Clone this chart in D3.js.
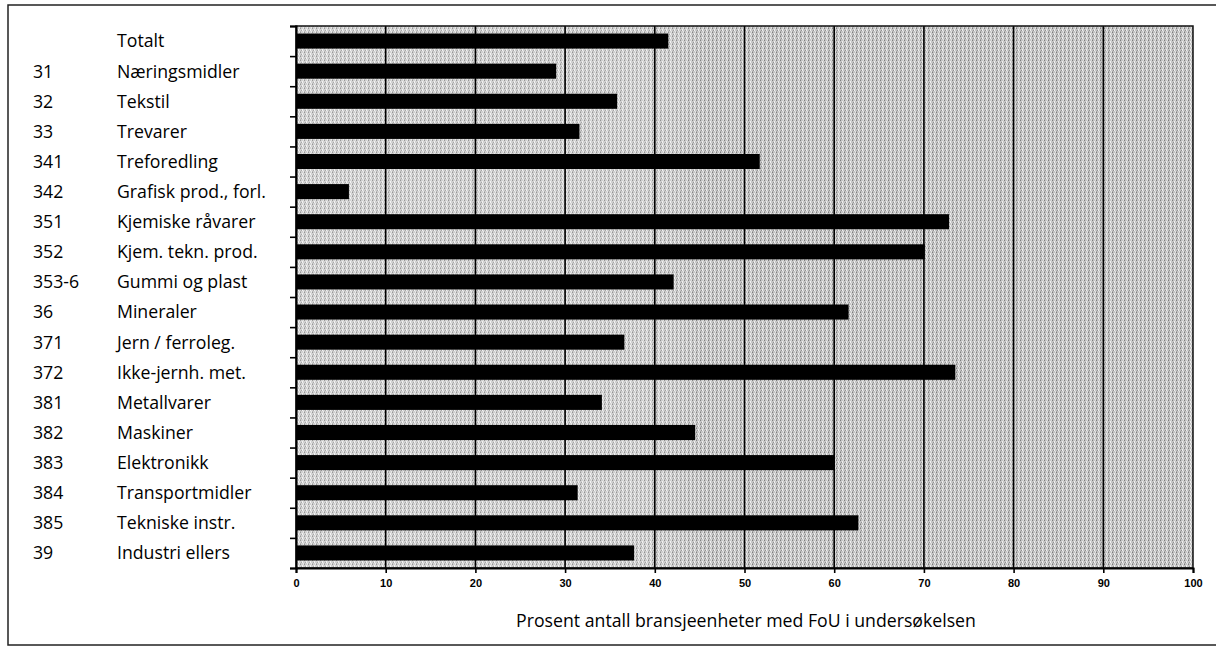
<!DOCTYPE html>
<html>
<meta charset="utf-8">
<script src="https://d3js.org/d3.v7.min.js"></script>
<style>
  body { margin: 0; background: #fff; }
  .lab { font-family: "Open Sans", sans-serif; font-size: 17.7px; fill: #000; }
  .xaxis text { font-family: "Liberation Sans", Arial, sans-serif; font-weight: bold; font-size: 11px; fill: #000; }
</style>
<body>
<div id="vis"></div>
<script>

  // data
  var codes = ["", "31", "32", "33", "341", "342", "351", "352", "353-6", "36",
               "371", "372", "381", "382", "383", "384", "385", "39"];
  var names = ["Totalt", "Næringsmidler", "Tekstil", "Trevarer", "Treforedling",
               "Grafisk prod., forl.", "Kjemiske råvarer", "Kjem. tekn. prod.",
               "Gummi og plast", "Mineraler", "Jern / ferroleg.", "Ikke-jernh. met.",
               "Metallvarer", "Maskiner", "Elektronikk", "Transportmidler",
               "Tekniske instr.", "Industri ellers"];
  var values = [41.5, 29.0, 35.8, 31.6, 51.7, 5.9, 72.8, 70.1, 42.1, 61.6,
                36.6, 73.5, 34.1, 44.5, 60.0, 31.4, 62.7, 37.7];
  var xTicks = [0, 10, 20, 30, 40, 50, 60, 70, 80, 90, 100];
  var xTitle = "Prosent antall bransjeenheter med FoU i undersøkelsen";

  var total_width = 1216, total_height = 648;
  var pLeft = 296, pRight = 1193, pTop = 26, pBottom = 568;

  var svg = d3.select("#vis").append("svg")
      .attr("width", total_width)
      .attr("height", total_height);

  // stipple pattern for the plot background
  var defs = svg.append("defs");
  var pat = defs.append("pattern")
      .attr("id", "stip")
      .attr("width", 4).attr("height", 4)
      .attr("patternUnits", "userSpaceOnUse");
  pat.append("rect").attr("width", 4).attr("height", 4).attr("fill", "#c4c4c4");
  [[0,0,"#7c7c7c"],[2,1,"#eeeeee"],[1,2,"#909090"],[3,3,"#e4e4e4"],[3,0,"#dadada"],[0,3,"#a0a0a0"],[2,2,"#f0f0f0"]]
    .forEach(function(p) {
      pat.append("rect").attr("x", p[0]).attr("y", p[1]).attr("width", 1).attr("height", 1).attr("fill", p[2]);
    });
  var grad = defs.append("linearGradient").attr("id", "fade")
      .attr("x1", "0").attr("x2", "1").attr("y1", "0").attr("y2", "0");
  grad.append("stop").attr("offset", "0").attr("stop-color", "#fff").attr("stop-opacity", 0.22);
  grad.append("stop").attr("offset", "0.4").attr("stop-color", "#fff").attr("stop-opacity", 0.18);
  grad.append("stop").attr("offset", "0.46").attr("stop-color", "#fff").attr("stop-opacity", 0.02);
  grad.append("stop").attr("offset", "1").attr("stop-color", "#fff").attr("stop-opacity", 0);

  // outer frame
  svg.append("rect")
    .attr("x", 8).attr("y", 5)
    .attr("width", 1230).attr("height", 640)
    .attr("fill", "none").attr("stroke", "#222").attr("stroke-width", 1.5);

  var x = d3.scaleLinear().domain([0, 100]).range([pLeft, pRight]);
  var y = d3.scaleBand().domain(d3.range(names.length))
      .range([pTop, pBottom]).paddingInner(0.5).paddingOuter(0.25);
  var ySlots = d3.scaleLinear().domain([0, names.length]).range([pTop, pBottom]);

  // plot background
  svg.append("rect")
    .attr("x", pLeft).attr("y", pTop)
    .attr("width", pRight - pLeft).attr("height", pBottom - pTop)
    .attr("fill", "url(#stip)");
  svg.append("rect")
    .attr("x", pLeft).attr("y", pTop)
    .attr("width", pRight - pLeft).attr("height", pBottom - pTop)
    .attr("fill", "url(#fade)");

  // vertical gridlines
  svg.append("g")
    .selectAll("line")
    .data(xTicks.slice(1, -1))
    .enter().append("line")
      .attr("x1", function(d) { return x(d); })
      .attr("x2", function(d) { return x(d); })
      .attr("y1", pTop).attr("y2", pBottom)
      .attr("stroke", "#000").attr("stroke-width", 1.6);

  // bars
  svg.append("g")
    .selectAll("rect")
    .data(values)
    .enter().append("rect")
      .attr("x", x(0))
      .attr("y", function(d, i) { return y(i); })
      .attr("width", function(d) { return x(d) - x(0); })
      .attr("height", y.bandwidth())
      .attr("fill", "#000");

  // plot frame
  svg.append("rect")
    .attr("x", pLeft).attr("y", pTop)
    .attr("width", pRight - pLeft).attr("height", pBottom - pTop)
    .attr("fill", "none").attr("stroke", "#111").attr("stroke-width", 1.5);

  // left axis: ticks between categories
  svg.append("g")
    .attr("transform", "translate(" + pLeft + ",0)")
    .call(d3.axisLeft(ySlots).ticks(names.length).tickSize(6).tickFormat(""))
    .call(function(g) {
      g.select(".domain").attr("stroke", "#000").attr("stroke-width", 2);
      g.selectAll(".tick line").attr("stroke", "#000").attr("stroke-width", 1.6);
    });

  // bottom axis
  svg.append("g")
    .attr("class", "xaxis")
    .attr("transform", "translate(0," + pBottom + ")")
    .call(d3.axisBottom(x).tickValues(xTicks).tickSize(5).tickPadding(6))
    .call(function(g) {
      g.select(".domain").attr("stroke", "#000").attr("stroke-width", 2);
      g.selectAll(".tick line").attr("stroke", "#000").attr("stroke-width", 1.6);
    });

  // category labels
  var labs = svg.append("g");
  labs.selectAll(".code")
    .data(codes)
    .enter().append("text")
      .attr("class", "lab")
      .attr("x", 33)
      .attr("y", function(d, i) { return y(i) + y.bandwidth() / 2; })
      .attr("dy", "0.36em")
      .text(function(d) { return d; });
  labs.selectAll(".name")
    .data(names)
    .enter().append("text")
      .attr("class", "lab")
      .attr("x", 117)
      .attr("y", function(d, i) { return y(i) + y.bandwidth() / 2; })
      .attr("dy", "0.36em")
      .text(function(d) { return d; });

  // axis title
  svg.append("text")
    .attr("class", "lab")
    .attr("x", 746)
    .attr("y", 627)
    .attr("text-anchor", "middle")
    .text(xTitle);

</script>
</body>
</html>
